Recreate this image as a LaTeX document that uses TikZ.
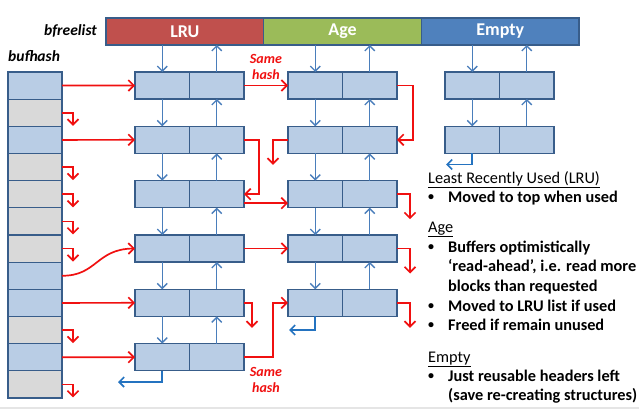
\documentclass[tikz,border=0pt]{standalone}
\usepackage{fontspec}
\setmainfont{Carlito}
\usetikzlibrary{arrows.meta}
\definecolor{lrured}{HTML}{C0504D}
\definecolor{agegreen}{HTML}{9BBB59}
\definecolor{emptyblue}{HTML}{4F81BD}
\definecolor{boxfill}{HTML}{B9CDE5}
\definecolor{boxline}{HTML}{385D8A}
\definecolor{cellgray}{HTML}{D9D9D9}
\definecolor{arrblue}{HTML}{4A7EBB}
\definecolor{retblue}{HTML}{2473C0}
\definecolor{hred}{HTML}{F01010}
\begin{document}
\begin{tikzpicture}[x=1pt,y=-1pt,
  half/.style={draw=boxline, fill=boxfill, line width=1.3pt, minimum width=54.5pt, minimum height=27pt, inner sep=0pt, outer sep=0pt, anchor=north west},
  cell/.style={draw=boxline, line width=1.3pt, minimum width=54pt, minimum height=27.17pt, inner sep=0pt, outer sep=0pt, anchor=north west},
  barsec/.style={draw=boxline, line width=1.3pt, minimum width=157.7pt, minimum height=27pt, inner sep=0pt, outer sep=0pt, anchor=north west, text=white, font=\bfseries\fontsize{18}{20}\selectfont},
  barr/.style={draw=arrblue, line width=1.4pt, -{Straight Barb[length=5pt,width=10pt]}},
  retarr/.style={draw=retblue, line width=1.6pt, -{Straight Barb[length=5pt,width=10pt]}},
  rarr/.style={draw=hred, line width=1.7pt, -{Straight Barb[length=5.5pt,width=11pt]}},
  lbl/.style={font=\bfseries\itshape\fontsize{15.5}{18}\selectfont, inner sep=0pt},
  samehash/.style={text=hred, font=\bfseries\itshape\fontsize{14}{16}\selectfont, align=center, inner sep=0pt},
  head/.style={anchor=base west, inner sep=0pt, font=\fontsize{16.3}{19}\selectfont},
  btxt/.style={anchor=base west, inner sep=0pt, font=\bfseries\fontsize{16.3}{19}\selectfont},
  bul/.style={anchor=base west, inner sep=0pt, font=\bfseries\fontsize{12}{14}\selectfont}
]
\useasboundingbox (0,0) rectangle (639,409);
\fill[black!10] (0,406.5) rectangle (639,409);

% bfreelist bar
\node[barsec, fill=lrured] (lru) at (106,18) {LRU};
\node[barsec, fill=agegreen] (age) at (263.7,18) {Age};
\node[barsec, fill=emptyblue] (empty) at (421.4,18) {Empty};

\node[lbl, anchor=base east] (bfl) at (97,36) {bfreelist};
\node[lbl, anchor=base west] (bfh) at (8,62) {bufhash};

% bufhash cells
\foreach \i/\c in {1/boxfill,2/cellgray,3/boxfill,4/cellgray,5/cellgray,6/cellgray,7/cellgray,8/boxfill,9/boxfill,10/cellgray,11/boxfill,12/cellgray} {
  \pgfmathsetmacro\yy{72+27.1667*(\i-1)}
  \node[cell, fill=\c] (h\i) at (8,\yy) {};
}

% LRU column
\foreach \i/\y in {1/72,2/126.33,3/180.67,4/235,5/289.33,6/343.67} {
  \node[half] (L\i-a) at (135,\y) {};
  \node[half] (L\i-b) at (189.5,\y) {};
}
% Age column
\foreach \i/\y in {1/72,2/126.33,3/180.67,4/235,5/289.33} {
  \node[half] (A\i-a) at (288,\y) {};
  \node[half] (A\i-b) at (342.5,\y) {};
}
% Empty column
\foreach \i/\y in {1/72,2/126.33} {
  \node[half] (E\i-a) at (445,\y) {};
  \node[half] (E\i-b) at (499.5,\y) {};
}

% blue vertical arrows: bar to first row
\draw[barr] (L1-a |- lru.south) -- (L1-a.north);
\draw[barr] (L1-b.north) -- (L1-b |- lru.south);
\draw[barr] (A1-a |- age.south) -- (A1-a.north);
\draw[barr] (A1-b.north) -- (A1-b |- age.south);
\draw[barr] (E1-a |- empty.south) -- (E1-a.north);
\draw[barr] (E1-b.north) -- (E1-b |- empty.south);

% between rows
\foreach \i [evaluate=\i as \j using int(\i+1)] in {1,...,5} {
  \draw[barr] (L\i-a.south) -- (L\j-a.north);
  \draw[barr] (L\j-b.north) -- (L\i-b.south);
}
\foreach \i [evaluate=\i as \j using int(\i+1)] in {1,...,4} {
  \draw[barr] (A\i-a.south) -- (A\j-a.north);
  \draw[barr] (A\j-b.north) -- (A\i-b.south);
}
\draw[barr] (E1-a.south) -- (E2-a.north);
\draw[barr] (E2-b.north) -- (E1-b.south);

% list ends
\coordinate (Lend) at (118,382);
\coordinate (Aend) at (289,330);
\coordinate (Eend) at (446,164.5);
\draw[retarr] (L6-a.south) |- (Lend);
\draw[retarr] (A5-a.south) |- (Aend);
\draw[retarr] (E2-a.south) |- (Eend);

% bufhash to LRU
\draw[rarr] (h1.east) -- (L1-a.west);
\draw[rarr] (h3.east) -- (L2-a.west);
\draw[rarr] (h8.east) .. controls (97,276) and (96,249) .. (L4-a.west);
\draw[rarr] (h9.east) -- (L5-a.west);
\draw[rarr] (h11.east) -- (L6-a.west);
\foreach \i in {2,4,5,6,7,10,12} {
  \draw[rarr] (h\i.east) -- ++(11,0) -- ++(0,13);
}

% hash chains
\draw[rarr] (L1-b.east) -- (A1-a.west);
\draw[rarr] (L2-b.east) -- ++(15,0) |- (L3-b.east);
\draw[rarr] ([yshift=-9pt]L3-b.east) -- ([yshift=-9pt]A3-a.west);
\draw[rarr] (L4-b.east) -- (A4-a.west);
\draw[rarr] (L5-b.east) -- ++(8,0) -- ++(0,25);
\draw[rarr] (L6-b.east) -- ++(29,0) |- (A5-a.west);
\draw[rarr] (A1-b.east) -- ++(16,0) |- (A2-b.east);
\draw[rarr] (A2-a.west) -- ++(-15,0) -- ++(0,25);
\draw[rarr] (A3-b.east) -- ++(13,0) -- ++(0,25);
\draw[rarr] (A4-b.east) -- ++(13,0) -- ++(0,25);
\draw[rarr] (A5-b.east) -- ++(13,0) -- ++(0,25);

\node[samehash] (sh1) at (266,66.5) {Same\\hash};
\node[samehash] (sh2) at (266,379.5) {Same\\hash};

% right-hand text
\node[head] (t1) at (428,183) {\underline{Least Recently Used (LRU)}};
\node[bul] (b1) at (428,200.5) {•};
\node[btxt] (t2) at (448,202.5) {Moved to top when used};
\node[head] (t3) at (428,232) {\underline{Age}};
\node[bul] (b2) at (428,250) {•};
\node[btxt] (t4) at (448,252) {Buffers optimistically};
\node[btxt] (t5) at (448,271.5) {‘read-ahead’, i.e. read more};
\node[btxt] (t6) at (448,291) {blocks than requested};
\node[bul] (b3) at (428,309) {•};
\node[btxt] (t7) at (448,311) {Moved to LRU list if used};
\node[bul] (b4) at (428,328.5) {•};
\node[btxt] (t8) at (448,330.5) {Freed if remain unused};
\node[head] (t9) at (428,362) {\underline{Empty}};
\node[bul] (b5) at (428,379) {•};
\node[btxt] (t10) at (448,381) {Just reusable headers left};
\node[btxt] (t11) at (448,400) {(save re-creating structures)};
\end{tikzpicture}
\end{document}
